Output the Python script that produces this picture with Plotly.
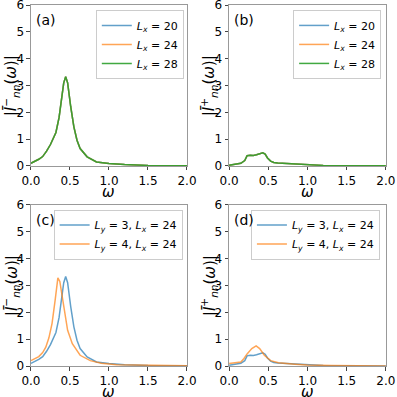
import plotly.graph_objs as go

# spectra; Lx = 20, 24, 28 curves coincide
w_minus_ly3 = [0.0, 0.05, 0.1, 0.15, 0.2, 0.25, 0.28, 0.32, 0.36, 0.39, 0.42, 0.445,
               0.47, 0.51, 0.55, 0.59, 0.63, 0.72, 0.84, 1.0, 1.2, 1.5, 2.0]
I_minus_ly3 = [0.1, 0.17, 0.25, 0.35, 0.55, 0.8, 0.98, 1.25, 1.8, 2.45, 3.1, 3.33,
               3.1, 2.2, 1.46, 0.96, 0.65, 0.34, 0.15, 0.09, 0.05, 0.02, 0.01]

w_plus_ly3 = [0.0, 0.1, 0.15, 0.2, 0.23, 0.27, 0.31, 0.35, 0.39, 0.43, 0.46, 0.49,
              0.53, 0.57, 0.62, 0.7, 0.8, 0.9, 1.0, 1.2, 1.5, 2.0]
I_plus_ly3 = [0.03, 0.07, 0.1, 0.2, 0.38, 0.4, 0.39, 0.42, 0.46, 0.49, 0.44, 0.3,
              0.18, 0.13, 0.11, 0.1, 0.09, 0.06, 0.04, 0.02, 0.01, 0.005]

w_minus_ly4 = [0.0, 0.05, 0.1, 0.15, 0.19, 0.23, 0.27, 0.31, 0.345, 0.37, 0.39, 0.43,
               0.47, 0.53, 0.63, 0.76, 0.9, 1.1, 1.5, 2.0]
I_minus_ly4 = [0.2, 0.26, 0.35, 0.5, 0.7, 1.05, 1.58, 2.45, 3.28, 3.15, 2.8, 1.95,
               1.33, 0.83, 0.4, 0.2, 0.1, 0.05, 0.02, 0.01]

w_plus_ly4 = [0.0, 0.1, 0.15, 0.19, 0.23, 0.29, 0.345, 0.39, 0.45, 0.53, 0.63, 0.84,
              1.0, 1.3, 1.6, 2.0]
I_plus_ly4 = [0.09, 0.12, 0.15, 0.28, 0.45, 0.65, 0.75, 0.65, 0.4, 0.2, 0.12, 0.07,
              0.04, 0.02, 0.01, 0.005]

Lx_values = [20, 24, 28]
Ly_labels = ['<i>L<sub>y</sub></i> = 3, <i>L<sub>x</sub></i> = 24',
             '<i>L<sub>y</sub></i> = 4, <i>L<sub>x</sub></i> = 24']

blue = 'rgba(31,119,180,0.7)'
orange = 'rgba(255,127,14,0.7)'
green = 'rgba(44,160,44,0.9)'
lx_colors = [blue, orange, green]

FONT = 'DejaVu Sans'
LW = 1.5

data = []
# (a) and (b)
for i, lx in enumerate(Lx_values):
    name = '<i>L<sub>x</sub></i> = %d' % lx
    data.append(go.Scatter(x=w_minus_ly3, y=I_minus_ly3, mode='lines', name=name,
                           line=dict(color=lx_colors[i], width=LW),
                           xaxis='x', yaxis='y', legend='legend'))
    data.append(go.Scatter(x=w_plus_ly3, y=I_plus_ly3, mode='lines', name=name,
                           line=dict(color=lx_colors[i], width=LW),
                           xaxis='x2', yaxis='y2', legend='legend2'))
# (c) and (d)
data.append(go.Scatter(x=w_minus_ly3, y=I_minus_ly3, mode='lines', name=Ly_labels[0],
                       line=dict(color=blue, width=LW), xaxis='x3', yaxis='y3', legend='legend3'))
data.append(go.Scatter(x=w_minus_ly4, y=I_minus_ly4, mode='lines', name=Ly_labels[1],
                       line=dict(color=orange, width=LW), xaxis='x3', yaxis='y3', legend='legend3'))
data.append(go.Scatter(x=w_plus_ly3, y=I_plus_ly3, mode='lines', name=Ly_labels[0],
                       line=dict(color=blue, width=LW), xaxis='x4', yaxis='y4', legend='legend4'))
data.append(go.Scatter(x=w_plus_ly4, y=I_plus_ly4, mode='lines', name=Ly_labels[1],
                       line=dict(color=orange, width=LW), xaxis='x4', yaxis='y4', legend='legend4'))

ylab_minus = '|<i>Ī</i><sup>−</sup><sub><i>nn</i></sub>(<i>ω</i>)|'
ylab_plus = '|<i>Ī</i><sup>+</sup><sub><i>nn</i></sub>(<i>ω</i>)|'


def xax(dom, anchor):
    return dict(domain=dom, anchor=anchor, range=[0, 2], tickvals=[0, 0.5, 1, 1.5, 2],
                ticktext=['0.0', '0.5', '1.0', '1.5', '2.0'], ticks='outside', ticklen=3.5,
                showline=True, mirror=True, linecolor='#999', linewidth=1, showgrid=False,
                zeroline=False, tickfont=dict(size=12, family=FONT), automargin=False,
                ticklabeloverflow='allow')


def yax(dom, anchor):
    return dict(domain=dom, anchor=anchor, range=[0, 6], dtick=1, ticks='outside', ticklen=3.5,
                showline=True, mirror=True, linecolor='#999', linewidth=1, showgrid=False,
                zeroline=False, tickfont=dict(size=12, family=FONT), automargin=False,
                ticklabeloverflow='allow')


def leg(x, y):
    return dict(x=x, y=y, xanchor='right', yanchor='top', bgcolor='rgba(255,255,255,0.8)',
                bordercolor='#ccc', borderwidth=1, font=dict(size=11, family=FONT),
                tracegroupgap=0, itemwidth=30)


xl = [0.078, 0.471]
xr = [0.577, 0.972]
yt = [0.582, 0.987]
yb = [0.078, 0.484]

layout = go.Layout(
    width=397, height=397, margin=dict(l=0, r=0, t=0, b=0, autoexpand=False),
    plot_bgcolor='white', paper_bgcolor='white', font=dict(family=FONT, color='black'),
    xaxis=xax(xl, 'y'), yaxis=yax(yt, 'x'),
    xaxis2=xax(xr, 'y2'), yaxis2=yax(yt, 'x2'),
    xaxis3=xax(xl, 'y3'), yaxis3=yax(yb, 'x3'),
    xaxis4=xax(xr, 'y4'), yaxis4=yax(yb, 'x4'),
    legend=leg(0.463, 0.975), legend2=leg(0.96, 0.975),
    legend3=leg(0.46, 0.472), legend4=leg(0.957, 0.472),
)

fig = go.Figure(data=data, layout=layout)
panels = [('x', 'y', '(a)', ylab_minus), ('x2', 'y2', '(b)', ylab_plus),
          ('x3', 'y3', '(c)', ylab_minus), ('x4', 'y4', '(d)', ylab_plus)]
for xa, ya, tag, ylab in panels:
    fig.add_annotation(text=tag, xref=xa + ' domain', yref=ya + ' domain',
                       x=0.02, y=0.97, xanchor='left', yanchor='top', showarrow=False,
                       font=dict(size=14, family=FONT))
    # axis titles
    fig.add_annotation(text='<i>ω</i>', xref=xa + ' domain', yref=ya + ' domain',
                       x=0.5, y=-0.16, xanchor='center', yanchor='middle', showarrow=False,
                       font=dict(size=15, family=FONT))
    fig.add_annotation(text=ylab, xref=xa + ' domain', yref=ya + ' domain',
                       x=-0.13, y=0.5, xanchor='center', yanchor='middle', showarrow=False,
                       textangle=-90, font=dict(size=15, family=FONT))

fig.write_html('out.html', post_script="document.body.style.margin='0';",
               config={'displayModeBar': False})
